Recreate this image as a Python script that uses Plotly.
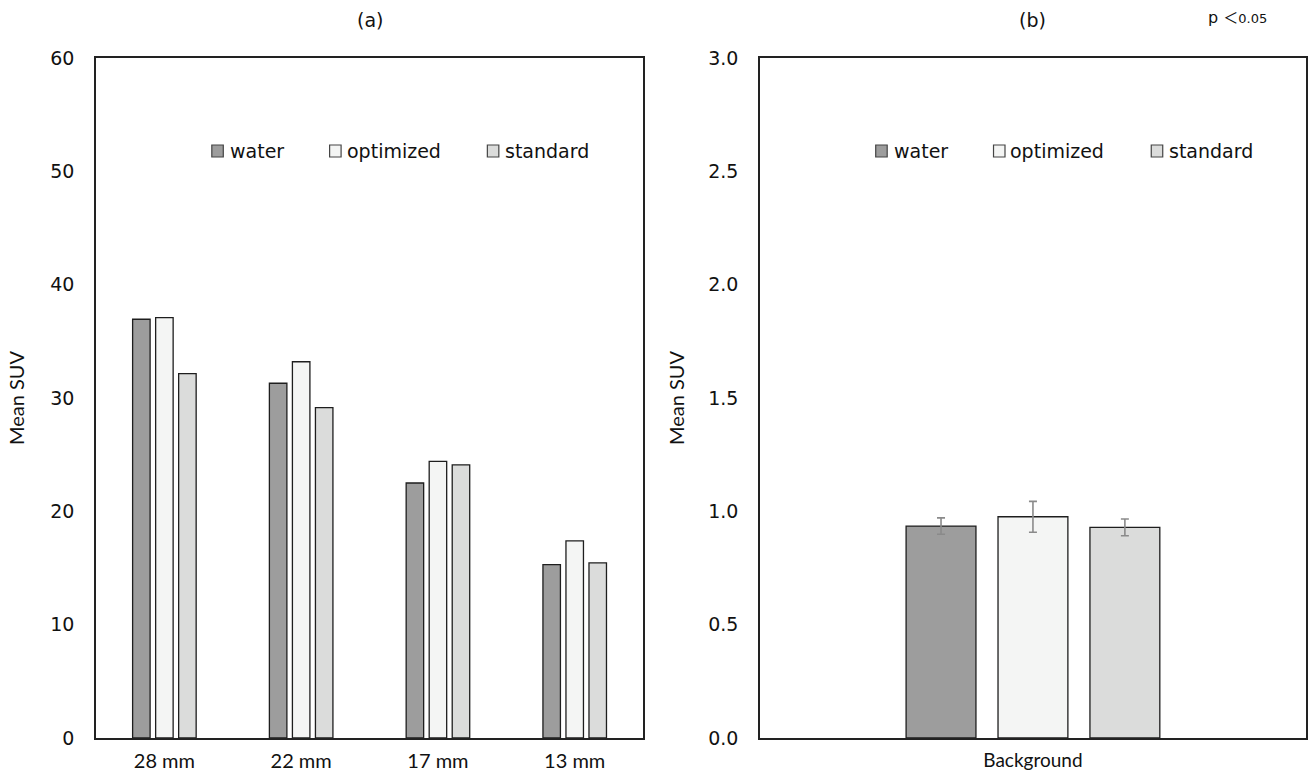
import plotly.graph_objects as go
from plotly.subplots import make_subplots

# ---------------- data ----------------
sizes = ["28 mm", "22 mm", "17 mm", "13 mm"]
series_names = ["water", "optimized", "standard"]
water_a = [36.95, 31.3, 22.5, 15.3]
optimized_a = [37.1, 33.2, 24.4, 17.4]
standard_a = [32.15, 29.15, 24.1, 15.45]

bg_category = ["Background"]
water_b = [0.935]
optimized_b = [0.976]
standard_b = [0.929]
water_b_err = [0.036]
optimized_b_err = [0.068]
standard_b_err = [0.037]

# ---------------- style ----------------
colors = ["#9d9d9d", "#f4f5f4", "#dbdcdb"]
edge = "#1e1e1e"
W, H = 1311, 778
ML, MR, MT, MB = 96, 3, 58, 40
PW = W - ML - MR
PH = H - MT - MB
left_w = 548
right_x0 = 761 - ML

font_dv = "DejaVu Sans"
font_cal = "Lato"

fig = make_subplots(rows=1, cols=2)

vals_a = [water_a, optimized_a, standard_a]
vals_b = [water_b, optimized_b, standard_b]
errs_b = [water_b_err, optimized_b_err, standard_b_err]

for name, c, v in zip(series_names, colors, vals_a):
    fig.add_trace(go.Bar(x=sizes, y=v, name=name, marker=dict(color=c, line=dict(color=edge, width=1.3)),
                         showlegend=False), row=1, col=1)
for name, c, v, e in zip(series_names, colors, vals_b, errs_b):
    fig.add_trace(go.Bar(x=bg_category, y=v, name=name,
                         marker=dict(color=c, line=dict(color=edge, width=1.3)),
                         error_y=dict(type="data", array=e, visible=True, color="#8a8a8a", thickness=1.6, width=4),
                         showlegend=False), row=1, col=2)

axis_common = dict(showline=True, mirror=True, linecolor="#222", linewidth=1.5, showgrid=False,
                   zeroline=False, ticks="")
fig.update_layout(
    width=W, height=H, margin=dict(l=ML, r=MR, t=MT, b=MB),
    paper_bgcolor="white", plot_bgcolor="white",
    barmode="group", bargap=0.495, bargroupgap=0.24,
    xaxis=dict(domain=[0, left_w / PW], tickfont=dict(family=font_cal, size=20, color="#111"),
               ticklabelstandoff=4, **axis_common),
    xaxis2=dict(domain=[right_x0 / PW, 1], tickfont=dict(family=font_cal, size=19, color="#111"),
                ticklabelstandoff=4, **axis_common),
    yaxis=dict(range=[0, 60], dtick=10, tickfont=dict(family=font_dv, size=19, color="#111"),
               ticklabelstandoff=16,
               title=dict(text="Mean SUV", font=dict(family=font_cal, size=20, color="#111"), standoff=20),
               **axis_common),
    yaxis2=dict(range=[0, 3], dtick=0.5, tickformat=".1f", tickfont=dict(family=font_dv, size=19, color="#111"),
                ticklabelstandoff=16,
                title=dict(text="Mean SUV", font=dict(family=font_cal, size=20, color="#111"), standoff=18),
                **axis_common),
)

# panel titles
for xr, txt in [("x domain", "(a)"), ("x2 domain", "(b)")]:
    fig.add_annotation(xref=xr, yref="paper", x=0.5, y=1 + (MT - 20) / PH, text=txt, showarrow=False,
                       font=dict(family=font_dv, size=19, color="#111"), xanchor="center", yanchor="middle")

fig.add_annotation(xref="paper", yref="paper", x=(1208 - ML) / PW, y=(H - MB - 17) / PH,
                   text="p <span style=\"font-family:'Noto Sans CJK JP';font-size:15px\">＜</span>"
                        "<span style='font-size:13px'>0.05</span>",
                   showarrow=False,
                   font=dict(family=font_dv, size=16, color="#111"),
                   xanchor="left", yanchor="middle")

# in-plot legends (one per panel)
sq_off = [116, 234, 392]
txt_off = [132, 249, 408]
leg_y = 151
for xr, pw in [("x domain", left_w), ("x2 domain", PW - right_x0)]:
    yr = "y domain" if xr == "x domain" else "y2 domain"
    yc = (H - MB - leg_y) / PH
    for name, c, so, to in zip(series_names, colors, sq_off, txt_off):
        fig.add_shape(type="rect", xref=xr, yref=yr, x0=so / pw, x1=(so + 11.5) / pw,
                      y0=yc - 6 / PH, y1=yc + 6 / PH, fillcolor=c, line=dict(color="#444", width=1.2))
        fig.add_annotation(xref=xr, yref=yr, x=to / pw, y=yc, text=name, showarrow=False,
                           xanchor="left", yanchor="middle",
                           font=dict(family=font_dv, size=19, color="#111"))

fig.write_html("out.html")
